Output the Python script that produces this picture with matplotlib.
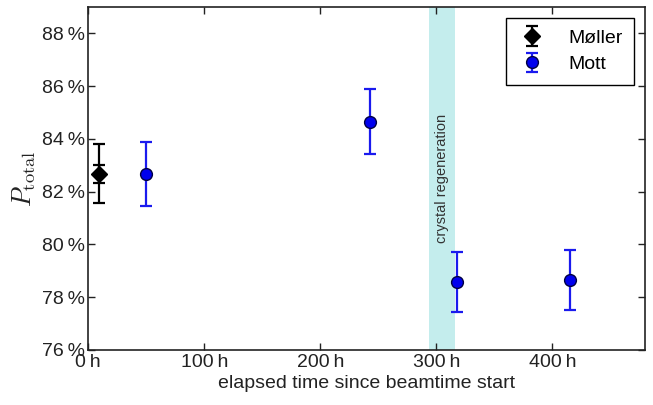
import matplotlib
matplotlib.use("Agg")
import matplotlib.pyplot as plt
from matplotlib.ticker import FuncFormatter

# Data
moller_t = [9]
moller_p = [82.68]
moller_stat = [0.34]
moller_tot = [1.13]

mott_t = [50, 243, 318, 415]
mott_p = [82.67, 84.65, 78.57, 78.66]
mott_err = [1.2, 1.23, 1.14, 1.14]

regen_start = 294
regen_end = 316

plt.rcParams['font.family'] = ['Liberation Sans', 'DejaVu Sans']
plt.rcParams['mathtext.fontset'] = 'cm'

fig = plt.figure(figsize=(6.53, 4.05), dpi=100)
ax = fig.add_axes([0.135, 0.136, 0.853, 0.847])

ax.axvspan(regen_start, regen_end, color='#c4eded', lw=0, zorder=0)
ax.text((regen_start + regen_end) / 2, 82.5, 'crystal regeneration', rotation=90,
        ha='center', va='center', fontsize=10.5, color='#333333')

ax.errorbar(moller_t, moller_p, yerr=moller_stat, fmt='none', ecolor='black',
            elinewidth=1.6, capsize=4, capthick=1.6, zorder=3)
ax.errorbar(moller_t, moller_p, yerr=moller_tot, fmt='D', color='black', ecolor='black',
            ms=8, elinewidth=1.6, capsize=4, capthick=1.6, label='Møller', zorder=4)
ax.errorbar(mott_t, mott_p, yerr=mott_err, fmt='o', color='#0000ee', mfc='#0000ee',
            mec='#000044', ms=8.5, ecolor='#1a1aee', elinewidth=1.6, capsize=4,
            capthick=1.6, label='Mott', zorder=4)

ax.set_xlim(0, 480)
ax.set_ylim(76, 89)
ax.set_xticks([0, 100, 200, 300, 400])
ax.set_yticks([76, 78, 80, 82, 84, 86, 88])
ax.xaxis.set_major_formatter(FuncFormatter(lambda v, p: '%d\u2009h' % v))
ax.yaxis.set_major_formatter(FuncFormatter(lambda v, p: '%d\u2009%%' % v))
ax.tick_params(direction='in', top=True, right=True, length=5, width=1,
               labelsize=14, colors='#222222', pad=1)
ax.tick_params(axis='x', pad=3)
ax.tick_params(axis='y', pad=2)
for s in ax.spines.values():
    s.set_linewidth(1.2)
    s.set_color('#222222')

ax.set_xlabel('elapsed time since beamtime start', fontsize=14, color='#222222',
              labelpad=3)
ax.set_ylabel(r'$P_{\mathrm{total}}$', fontsize=19, color='#222222', labelpad=3)

leg = ax.legend(loc='upper right', fontsize=14, fancybox=False, framealpha=1,
                edgecolor='black', numpoints=1, handlelength=1.5, borderpad=0.6,
                labelspacing=0.45, handletextpad=1.1, borderaxespad=0.55)
leg.get_frame().set_linewidth(1.0)

fig.savefig('out.png', dpi=100)
